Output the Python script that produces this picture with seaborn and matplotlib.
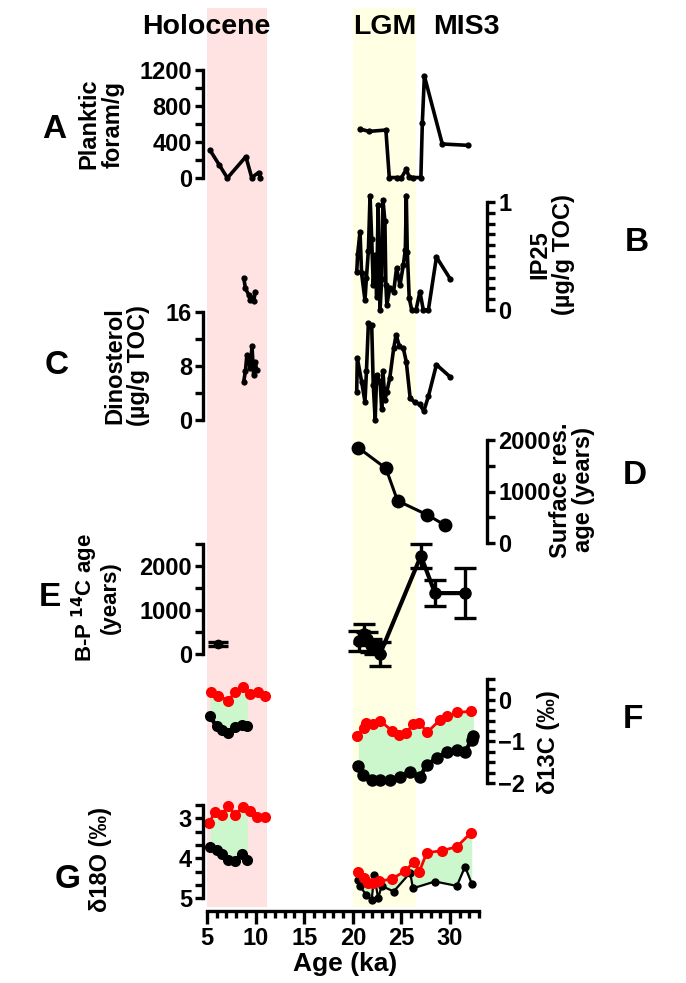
import numpy as np
import matplotlib
matplotlib.use("Agg")
import matplotlib.pyplot as plt
from matplotlib.ticker import MultipleLocator, FixedLocator
import seaborn as sns

# ---- data ----
# A: planktic forams
a_age = [5.3, 6.27, 7.1, 9.0, 9.6, 10.3, 10.5,
         20.74, 21.67, 23.4, 23.75, 24.5, 25.0, 25.5, 25.8, 26.2, 27.0, 27.15, 27.36, 29.2, 31.8]
a_val = [311, 144, 0, 237, 5, 60, 5,
         544, 518, 533, 5, 5, 5, 96, 10, 5, 5, 615, 1133, 378, 363]

# B: IP25
b_hol_age = [8.78, 8.95, 9.3, 9.45, 9.63, 9.8, 9.97]
b_hol_val = [0.30, 0.20, 0.14, 0.09, 0.11, 0.08, 0.17]
b_age = [20.4, 20.5, 20.74, 20.9, 21.25, 21.4, 21.6, 21.77, 21.94, 22.1, 22.3, 22.45, 22.6,
         22.8, 22.97, 23.1, 23.3, 23.4, 23.5, 23.8, 24.2, 24.5, 24.85, 25.2, 25.4, 25.5,
         25.6, 25.8, 26.06, 26.5, 26.9, 27.25, 27.77, 28.6, 30.0]
b_val = [0.35, 0.52, 0.725, 0.34, 0.09, 0.30, 0.55, 1.06, 0.66, 0.23, 0.51, 0.12, 0.97,
         0.0, 0.29, 1.02, 0.82, 0.23, 0.05, 0.20, 0.17, 0.39, 0.23, 0.42, 0.56, 1.06,
         0.54, 0.11, 0.0, 0.0, 0.17, 0.0, 0.0, 0.49, 0.29]

# C: dinosterol
c_hol_age = [8.78, 8.95, 9.1, 9.3, 9.45, 9.63, 9.8, 9.97, 10.1]
c_hol_val = [5.7, 7.2, 9.6, 8.5, 7.7, 10.9, 6.7, 8.6, 7.4]
c_age = [20.4, 20.46, 20.9, 21.25, 21.4, 21.6, 21.94, 22.1, 22.3, 22.45, 22.8, 22.97, 23.1,
         23.3, 23.5, 23.8, 24.2, 24.45, 24.8, 25.2, 25.5, 25.9, 26.4, 26.9, 27.3, 27.77, 28.6, 30.0]
c_val = [4.2, 9.2, 5.7, 2.7, 7.2, 14.3, 14.1, 5.2, 0.0, 6.7, 5.7, 1.7, 7.2,
         3.0, 4.2, 6.2, 10.6, 12.6, 10.9, 10.6, 8.6, 3.2, 2.6, 2.3, 1.3, 3.5, 8.2, 6.4]

# D: surface reservoir age
d_age = [20.57, 23.4, 24.6, 27.67, 29.5]
d_val = [1850, 1450, 820, 545, 345]

# E: B-P 14C age
e_hol_age = [6.17]
e_hol_val = [225]
e_hol_err = [45]
e_age = [20.6, 21.1, 21.5, 21.9, 22.3, 22.8, 27.0, 28.45, 31.5]
e_val = [300, 460, 350, 200, 120, 0, 2225, 1380, 1380]
e_err = [230, 220, 150, 150, 130, 280, 270, 290, 560]

# F: d13C (red = planktic, black = benthic)
f_red_hol_age = [5.38, 6.17, 7.2, 7.88, 8.74, 9.42, 10.28, 10.97]
f_red_hol_val = [0.18, 0.10, -0.02, 0.18, 0.31, 0.14, 0.18, 0.08]
f_blk_hol_age = [5.3, 6.0, 6.5, 7.2, 7.88, 8.57, 9.15]
f_blk_hol_val = [-0.40, -0.64, -0.72, -0.80, -0.66, -0.60, -0.63]
f_red_age = [20.4, 21.1, 21.4, 22.05, 22.8, 24.0, 24.7, 25.5, 26.2, 26.85, 27.66, 28.97, 29.66, 30.7, 32.16]
f_red_val = [-0.86, -0.68, -0.56, -0.58, -0.50, -0.74, -0.84, -0.80, -0.58, -0.55, -0.78, -0.48, -0.40, -0.30, -0.28]
f_blk_age = [20.57, 21.08, 21.94, 22.8, 23.83, 24.85, 25.9, 26.9, 27.6, 28.63, 29.66, 30.7, 31.54, 32.23, 32.4]
f_blk_val = [-1.60, -1.81, -1.93, -1.93, -1.93, -1.85, -1.73, -1.85, -1.57, -1.40, -1.25, -1.20, -1.25, -0.96, -0.88]

# G: d18O
g_red_hol_age = [5.24, 5.82, 6.5, 7.2, 7.88, 8.67, 9.42, 10.1, 10.97]
g_red_hol_val = [3.11, 2.83, 2.92, 2.69, 2.92, 2.71, 2.81, 2.96, 2.96]
g_blk_hol_age = [5.3, 6.0, 6.5, 7.2, 7.88, 8.57, 9.15]
g_blk_hol_val = [3.71, 3.78, 3.88, 4.03, 4.07, 3.88, 4.03]
g_red_age = [20.5, 21.15, 21.6, 22.1, 22.7, 24.0, 25.36, 26.33, 26.85, 27.6, 29.15, 30.7, 32.16]
g_red_val = [4.33, 4.48, 4.61, 4.61, 4.57, 4.52, 4.32, 4.08, 4.33, 3.86, 3.81, 3.71, 3.36]
g_blk_age = [20.5, 20.7, 21.4, 21.94, 22.2, 22.6, 22.97, 24.2, 25.9, 26.18, 28.45, 30.7, 31.54, 32.23]
g_blk_val = [4.55, 4.69, 4.92, 5.04, 4.42, 5.0, 4.69, 4.83, 4.36, 4.75, 4.58, 4.69, 4.21, 4.63]

x_ticks = [5, 10, 15, 20, 25, 30]

# ---- layout ----
sns.set_style("white")
plt.rcParams["font.family"] = ["Liberation Sans", "DejaVu Sans"]
plt.rcParams["font.weight"] = "bold"
plt.rcParams.update({"text.color": "black", "axes.labelcolor": "black",
                     "xtick.color": "black", "ytick.color": "black",
                     "axes.edgecolor": "black"})

W, H = 686, 983
L, R = 203, 487
XLIM = (4.59, 33.8)
LW = 2.4
TICK_FS = 17
LABEL_FS = 17
fig = plt.figure(figsize=(W / 100, H / 100), dpi=100)


def box(top, bottom, left=L, right=R):
    return fig.add_axes([left / W, 1 - bottom / H, (right - left) / W, (bottom - top) / H])


def style(ax, side, ylim, major, minor, bounds=None):
    ax.set_facecolor("none")
    ax.set_xlim(*XLIM)
    ax.set_ylim(*ylim)
    for s in ax.spines.values():
        s.set_visible(False)
    ax.spines[side].set_visible(True)
    ax.spines[side].set_linewidth(LW)
    if bounds is not None:
        ax.spines[side].set_bounds(*bounds)
    ax.set_xticks([])
    ax.yaxis.set_major_locator(FixedLocator(major))
    ax.yaxis.set_minor_locator(FixedLocator(minor))
    if side == "right":
        ax.yaxis.tick_right()
    ax.tick_params(axis="y", which="both", direction="out", width=LW, length=6,
                   labelsize=TICK_FS, pad=2, left=(side == "left"), right=(side == "right"),
                   labelleft=(side == "left"), labelright=(side == "right"))
    ax.set_xlabel("")
    ax.set_ylabel("")


def line(ax, x, y, color="black", ms=4.5, lw=2.6):
    sns.lineplot(x=x, y=y, ax=ax, sort=False, estimator=None, color=color, lw=lw,
                 marker="o", markersize=ms, markeredgewidth=0, clip_on=False)


# background bands
bg = box(8, 907)
bg.set_xlim(*XLIM)
bg.axvspan(5, 11.2, color="#FFE2E2", lw=0)
bg.axvspan(20, 26.5, color="#FFFFE4", lw=0)
bg.axis("off")

# A
axA = box(70, 178)
line(axA, a_age[:7], a_val[:7])
line(axA, a_age[7:], a_val[7:])
style(axA, "left", (0, 1200), [0, 400, 800, 1200], [200, 600, 1000])

# B
axB = box(202, 310)
line(axB, b_hol_age, b_hol_val)
line(axB, b_age, b_val)
style(axB, "right", (0, 1), [0, 1], list(np.arange(0.1, 1.0, 0.1)))

# C
axC = box(312, 420)
line(axC, c_hol_age, c_hol_val)
line(axC, c_age, c_val)
style(axC, "left", (0, 16), [0, 8, 16], [4, 12])

# D
axD = box(440, 543)
line(axD, d_age, d_val, ms=10, lw=2.2)
style(axD, "right", (0, 2000), [0, 1000, 2000], [500, 1500])

# E
axE = box(543.7, 654)
axE.errorbar(e_hol_age, e_hol_val, yerr=e_hol_err, fmt="none", ecolor="black",
             elinewidth=LW, capsize=7, capthick=LW, clip_on=False)
axE.errorbar(e_age, e_val, yerr=e_err, fmt="none", ecolor="black",
             elinewidth=LW, capsize=8, capthick=LW, clip_on=False)
line(axE, e_hol_age, e_hol_val, ms=7)
line(axE, e_age, e_val, ms=9, lw=3)
style(axE, "left", (0, 2500), [0, 1000, 2000], [500, 1500, 2500])

# F
axF = box(679, 783)
axF.fill_between(f_blk_hol_age, f_blk_hol_val,
                 np.interp(f_blk_hol_age, f_red_hol_age, f_red_hol_val), color="#CCF7CC", lw=0)
axF.fill_between(f_blk_age, f_blk_val,
                 np.interp(f_blk_age, f_red_age, f_red_val), color="#CCF7CC", lw=0)
line(axF, f_blk_hol_age, f_blk_hol_val, ms=8, lw=3)
line(axF, f_blk_age, f_blk_val, ms=9, lw=3)
line(axF, f_red_hol_age, f_red_hol_val, color="#FF0000", ms=8, lw=2)
line(axF, f_red_age, f_red_val, color="#FF0000", ms=8, lw=2)
style(axF, "right", (-2, 0.5), [-2, -1, 0], list(np.arange(-1.75, 0.55, 0.25)))

# G (inverted)
axG = box(805, 898.3)
axG.fill_between(g_blk_hol_age, g_blk_hol_val,
                 np.interp(g_blk_hol_age, g_red_hol_age, g_red_hol_val), color="#CCF7CC", lw=0)
axG.fill_between(g_blk_age, g_blk_val,
                 np.interp(g_blk_age, g_red_age, g_red_val), color="#CCF7CC", lw=0)
line(axG, g_blk_hol_age, g_blk_hol_val, ms=8, lw=3)
line(axG, g_blk_age, g_blk_val, ms=6, lw=1.6)
line(axG, g_red_hol_age, g_red_hol_val, color="#FF0000", ms=8, lw=2)
line(axG, g_red_age, g_red_val, color="#FF0000", ms=8, lw=2)
style(axG, "left", (5, 2.667), [3, 4, 5], [2.667, 3.333, 3.667, 4.333, 4.667])

# x axis
axG.spines["bottom"].set_visible(True)
axG.spines["bottom"].set_linewidth(LW)
axG.spines["bottom"].set_position(("outward", 9))
axG.spines["bottom"].set_bounds(5, 33)
axG.xaxis.set_major_locator(FixedLocator(x_ticks))
axG.xaxis.set_minor_locator(MultipleLocator(1))
axG.tick_params(axis="x", which="major", direction="out", width=LW, length=9,
                labelsize=TICK_FS, bottom=True, labelbottom=True, pad=3)
axG.tick_params(axis="x", which="minor", direction="out", width=LW, length=5, bottom=True)
axG.set_xticklabels([str(t) for t in x_ticks])
axG.set_xlabel("Age (ka)", fontsize=19, fontweight="bold", labelpad=1)


def ftext(x, y, s, size=LABEL_FS, rot=0, **kw):
    fig.text(x / W, 1 - y / H, s, fontsize=size, fontweight="bold", rotation=rot,
             ha="center", va="center", multialignment="center", **kw)


# header labels
ftext(206, 27, "Holocene", size=20.5)
ftext(385, 27, "LGM", size=20.5)
ftext(466, 27, "MIS3", size=20.5)

# axis titles
ftext(101, 124, "Planktic\nforam/g", rot=90, linespacing=1.05)
ftext(552, 255, "IP25\n(µg/g TOC)", rot=90, linespacing=1.05)
ftext(127, 366, "Dinosterol\n(µg/g TOC)", rot=90, linespacing=1.05)
ftext(572, 490, "Surface res.\nage (years)", rot=90, linespacing=1.05)
ftext(95, 598, "B-P $\\mathbf{^{14}}$C age\n(years)", rot=90, linespacing=1.0, size=16)
ftext(548, 742, "δ13C (‰)", rot=90)
ftext(100, 860, "δ18O (‰)", rot=90)

# panel letters
for letter, (x, y) in {"A": (54, 130), "B": (637, 242), "C": (57, 365), "D": (635, 476),
                       "E": (50, 598), "F": (633, 720), "G": (68, 880)}.items():
    ftext(x, y, letter, size=24)

fig.savefig("out.png", dpi=100)
